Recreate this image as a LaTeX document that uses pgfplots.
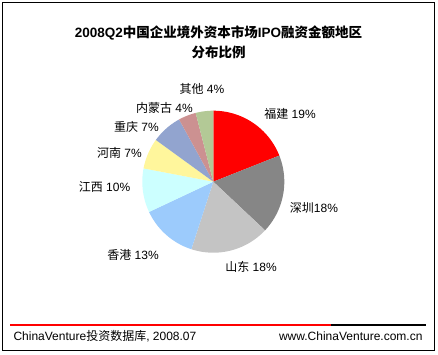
\documentclass[border=0pt]{standalone}
\usepackage{pgfplots}
\pgfplotsset{compat=1.18}
\usepackage{fontspec}
\setmainfont{Liberation Sans}
\newfontfamily\cjk{Noto Sans CJK SC}
\definecolor{cFJ}{HTML}{FF0000}
\definecolor{cSZ}{HTML}{868686}
\definecolor{cSD}{HTML}{C4C4C4}
\definecolor{cHK}{HTML}{9CCBFC}
\definecolor{cJX}{HTML}{CCFFFF}
\definecolor{cHN}{HTML}{FFF69C}
\definecolor{cCQ}{HTML}{92A4CF}
\definecolor{cNM}{HTML}{CC9191}
\definecolor{cQT}{HTML}{B3C996}
% slice: start percent, percent, colour
\newcommand{\slice}[3]{%
  \addplot[fill=#3, draw=none, domain={90-3.6*(#1+#2)}:{90-3.6*(#1)}, samples=60, variable=\t]
    ({213.3+71*cos(\t)}, {172.3+71*sin(\t)}) -- (axis cs:213.3,172.3) -- cycle;
}
\begin{document}
\begin{tikzpicture}
\begin{axis}[width=438pt, height=354pt, scale only axis,
  xmin=0, xmax=438, ymin=0, ymax=354, axis lines=none, clip=false]
\path (axis cs:0,0) rectangle (axis cs:438,354);
% values (percent): 福建 19, 深圳 18, 山东 18, 香港 13, 江西 10, 河南 7, 重庆 7, 内蒙古 4, 其他 4
\slice{0}{19}{cFJ}
\slice{19}{18}{cSZ}
\slice{37}{18}{cSD}
\slice{55}{13}{cHK}
\slice{68}{10}{cJX}
\slice{78}{7}{cHN}
\slice{85}{7}{cCQ}
\slice{92}{4}{cNM}
\slice{96}{4}{cQT}
\draw[line width=1pt] (axis cs:2.5,4) rectangle (axis cs:434.5,351);
\node[font=\fontsize{13.5}{16}\selectfont\bfseries] at (axis cs:218.5,321) {2008Q2{\cjk\bfseries 中国企业境外资本市场}IPO{\cjk\bfseries 融资金额地区}};
\node[font=\fontsize{13.5}{16}\selectfont\cjk\bfseries] at (axis cs:218.5,302) {分布比例};
\begin{scope}[every node/.style={font=\fontsize{12}{14}\selectfont}]
\node at (axis cs:202,265) {{\cjk 其他} 4\%};
\node at (axis cs:164.5,246) {{\cjk 内蒙古} 4\%};
\node at (axis cs:136.5,227) {{\cjk 重庆} 7\%};
\node at (axis cs:119.5,201) {{\cjk 河南} 7\%};
\node at (axis cs:104.5,167) {{\cjk 江西} 10\%};
\node at (axis cs:133,99) {{\cjk 香港} 13\%};
\node at (axis cs:251,87) {{\cjk 山东} 18\%};
\node at (axis cs:314,146) {{\cjk 深圳}18\%};
\node at (axis cs:290,240) {{\cjk 福建} 19\%};
\node[anchor=west] at (axis cs:10,18) {ChinaVenture{\cjk 投资数据库}, 2008.07};
\node[anchor=east] at (axis cs:426,18) {www.ChinaVenture.com.cn};
\end{scope}
\draw[red, line width=2pt] (axis cs:10,29.5) -- (axis cs:331,29.5);
\draw[black, line width=2pt] (axis cs:331,29.5) -- (axis cs:426,29.5);
\end{axis}
\end{tikzpicture}
\end{document}
